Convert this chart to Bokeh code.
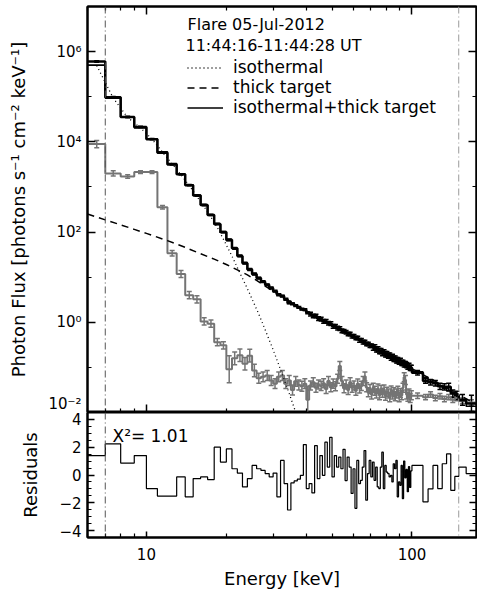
from bokeh.plotting import figure
from bokeh.models import (ColumnDataSource, FixedTicker, LogAxis, LinearAxis, Range1d, Span,
                          Whisker, TeeHead, Label, Legend, LegendItem, CustomJSTickFormatter)
from bokeh.layouts import column
from bokeh.embed import file_html
from bokeh.resources import INLINE

# ---------------- data ----------------
# energy bin edges [keV]
bin_edges = list(range(6, 101)) + [110, 115, 120, 125, 130, 135, 140, 145, 150, 160, 175]

# observed photon flux, log10 [photons s^-1 cm^-2 keV^-1]
data_log10 = [
    5.78, 4.99, 4.55, 4.33, 4.06, 3.76, 3.50, 3.28, 3.04, 2.81,   # 6-15
    2.60, 2.38, 2.18, 2.00, 1.83, 1.64, 1.47, 1.31, 1.17, 1.07,   # 16-25
    0.98, 0.90, 0.83, 0.76, 0.69, 0.61, 0.58, 0.51, 0.43, 0.41,   # 26-35
    0.37, 0.33, 0.29, 0.28, 0.21, 0.18, 0.14, 0.14, 0.08, 0.07,   # 36-45
    0.02, 0.02, -0.02, -0.03, -0.09, -0.09, -0.13, -0.14, -0.19, -0.20,  # 46-55
    -0.22, -0.26, -0.26, -0.31, -0.31, -0.35, -0.35, -0.40, -0.40, -0.44,  # 56-65
    -0.44, -0.48, -0.48, -0.52, -0.52, -0.56, -0.56, -0.60, -0.60, -0.64,  # 66-75
    -0.64, -0.68, -0.67, -0.71, -0.71, -0.74, -0.74, -0.78, -0.77, -0.81,  # 76-85
    -0.81, -0.84, -0.84, -0.87, -0.86, -0.90, -0.90, -0.93, -0.93, -0.95,  # 86-95
    -0.98, -0.97, -1.01, -1.01,                                           # 96-99
    -1.12, -1.30, -1.33, -1.35, -1.42, -1.43, -1.43, -1.58, -1.62, -1.72, -1.80,
]
# half error bar of the observed flux, in dex
data_err_dex = [0.015] * 15 + [0.02] * 20 + [0.04] * 30 + [0.06] * 29 + \
    [0.05, 0.05, 0.06, 0.06, 0.07, 0.07, 0.08, 0.08, 0.09, 0.12, 0.18]

# background photon flux, log10
background_log10 = [
    3.95, 3.30, 3.23, 3.33, 3.33, 2.55, 1.53, 1.07, 0.60, 0.51,   # 6-15
    0.02, -0.03, -0.44, -0.51, -1.04, -0.80, -0.73, -0.92, -0.74, -1.07,  # 16-25
    -1.24, -1.21, -1.18, -1.29, -1.36, -1.21, -1.18, -1.36, -1.29, -1.50,  # 26-35
    -1.31, -1.39, -1.42, -1.36, -1.72, -1.40, -1.33, -1.45, -1.38, -1.41,  # 36-45
    -1.35, -1.48, -1.30, -1.44, -1.36, -1.42, -1.25, -0.97, -1.30, -1.46,  # 46-55
    -1.38, -1.50, -1.33, -1.45, -1.40, -1.52, -1.36, -1.47, -1.41, -1.30,  # 56-65
    -1.20, -1.44, -1.55, -1.48, -1.60, -1.45, -1.52, -1.58, -1.47, -1.62,  # 66-75
    -1.50, -1.56, -1.49, -1.63, -1.54, -1.58, -1.66, -1.51, -1.60, -1.55,  # 76-85
    -1.64, -1.58, -1.52, -1.66, -1.57, -1.62, -1.45, -1.22, -1.28, -1.60,  # 86-95
    -1.65, -1.58, -1.68, -1.62,                                           # 96-99
    -1.63, -1.66, -1.60, -1.68, -1.64, -1.70, -1.66, -1.72, -1.68, -1.74, -1.78,
]
background_err_dex = [0.08, 0.06, 0.04, 0.03, 0.03, 0.04, 0.06] + [0.08] * 7 + [0.30] + \
    [0.14] * 5 + [0.11] * 14 + [0.30] + [0.10] * 59 + [0.06] * 11

# fitted model (isothermal + thick target) per bin, log10
model_log10 = [
    5.70, 4.97, 4.55, 4.31, 4.07, 3.78, 3.52, 3.28, 3.05, 2.82,
    2.60, 2.38, 2.17, 1.99, 1.81, 1.64, 1.47, 1.32, 1.18, 1.06,
    0.97, 0.89, 0.82, 0.76, 0.69, 0.63, 0.57, 0.52, 0.47, 0.42,
    0.38, 0.34, 0.30, 0.26, 0.22, 0.19, 0.16, 0.12, 0.09, 0.06,
    0.03, 0.00, -0.02, -0.05, -0.08, -0.10, -0.13, -0.15, -0.18, -0.20,
    -0.23, -0.25, -0.27, -0.30, -0.32, -0.34, -0.36, -0.39, -0.41, -0.43,
    -0.45, -0.47, -0.49, -0.51, -0.53, -0.55, -0.57, -0.59, -0.61, -0.63,
    -0.65, -0.66, -0.68, -0.70, -0.72, -0.73, -0.75, -0.77, -0.78, -0.80,
    -0.82, -0.83, -0.85, -0.86, -0.88, -0.89, -0.91, -0.92, -0.94, -0.95,
    -0.97, -0.98, -1.00, -1.01,
    -1.10, -1.22, -1.28, -1.35, -1.40, -1.46, -1.52, -1.57, -1.62, -1.74, -1.86,
]

# normalised residuals per bin
residuals = [
    1.40, 2.24, 0.86, 1.40, -0.98, -1.52, -1.52, -0.14, -1.57, -0.26,
    -0.14, -0.33, 2.00, 0.93, 1.88, 0.45, 0.14, -0.86, -0.26, 0.69,
    0.45, 0.33, 0.10, -0.14, 0.14, -1.57, 1.05, -0.62, -2.52, -0.57,
    -0.43, -0.30, -0.02, 2.19, -0.98, -0.62, -1.29, 2.12, -0.26, 1.40,
    -0.02, 2.36, 0.57, 2.71, -0.14, 1.40, 0.57, 1.29, 0.45, 1.85,
    -0.40, 1.29, 0.57, -1.33, 0.45, -2.40, 1.05, -0.62, -0.38, 0.57,
    1.76, -1.81, 0.10, 1.05, -0.14, 0.93, -0.38, 0.57, -0.86, -0.98,
    0.57, 1.64, -0.98, 0.69, 0.21, 0.10, -0.14, -0.02, -0.50, 0.81,
    0.45, 1.05, -1.57, -0.50, -0.74, 0.69, -1.70, 1.00, -0.20, 0.40,
    -1.20, 0.60, -0.90, 0.30,
    0.69, -1.93, -1.00, 0.69, -0.98, 0.81, 1.52, -1.10, -0.10, 0.57, 0.10,
]

# isothermal component (dotted)
iso_energy = [6.5, 7.5, 8.5, 9.5, 10.5, 11.5, 12.5, 13.5, 14.5, 15.5, 16.5, 17.5, 18.5, 19.5,
              20.5, 21.5, 22.5, 23.5, 24.5, 25.5, 26.5, 27.5, 28.5, 29.5, 30.5, 31.5, 32.5,
              33.5, 34.5, 35.5, 36.5, 37.5]
iso_log10 = [5.69, 4.97, 4.54, 4.31, 4.06, 3.77, 3.51, 3.27, 3.03, 2.79, 2.56, 2.33, 2.10, 1.84,
             1.59, 1.34, 1.09, 0.86, 0.63, 0.40, 0.18, -0.05, -0.28, -0.50, -0.72, -0.94, -1.16,
             -1.37, -1.58, -1.79, -2.00, -2.21]

# thick-target component (dashed)
thick_energy = [6, 7, 8, 9, 10, 12, 14, 16, 18, 20, 22, 24, 26, 28, 30, 33, 36, 40, 45, 50,
                55, 60, 70, 80, 90, 100, 110, 120, 135, 150, 165, 175]
thick_log10 = [2.40, 2.27, 2.16, 2.06, 1.97, 1.81, 1.66, 1.52, 1.40, 1.28, 1.16, 1.05, 0.93,
               0.80, 0.69, 0.54, 0.40, 0.24, 0.06, -0.08, -0.20, -0.32, -0.53, -0.72, -0.88,
               -1.03, -1.16, -1.28, -1.45, -1.60, -1.74, -1.82]

fit_range = [7, 150]          # keV, dash-dot lines
chi2_text = "X²=  1.01"
title_lines = ["Flare 05-Jul-2012", "11:44:16-11:44:28 UT"]
legend_labels = ["isothermal", "thick target", "isothermal+thick target"]

# ---------------- derived plotting arrays ----------------
lo = bin_edges[:-1]
hi = bin_edges[1:]
mid = [(a + b) / 2 for a, b in zip(lo, hi)]

def step_y(vals):
    return vals + [vals[-1]]

data_flux = [10 ** v for v in data_log10]
bg_flux = [10 ** v for v in background_log10]
model_flux = [10 ** v for v in model_log10]

FONT = "DejaVu Sans"
GRAY = "#747474"

sup_js = """
const sup = {"-":"\u207b","0":"\u2070","1":"\u00b9","2":"\u00b2","3":"\u00b3","4":"\u2074",
             "5":"\u2075","6":"\u2076","7":"\u2077","8":"\u2078","9":"\u2079"};
const e = Math.round(Math.log10(tick));
return "10" + String(e).split("").map(c => sup[c]).join("");
"""

x_major = [10, 100]
x_minor = [6, 7, 8, 9, 20, 30, 40, 50, 60, 70, 80, 90, 200]
y_major = [1e-2, 1e0, 1e2, 1e4, 1e6]
y_minor = [1e-2, 1e-1, 1e0, 1e1, 1e2, 1e3, 1e4, 1e5, 1e6, 1e7]
r_major = [-4, -2, 0, 2, 4]
r_minor = [-4.5 + 0.5 * i for i in range(19)]


def style_axis(ax, labels=True, major=8, minor=4):
    ax.major_tick_in = major
    ax.major_tick_out = 0
    ax.minor_tick_in = minor
    ax.minor_tick_out = 0
    ax.axis_line_width = 2
    ax.axis_line_color = "black"
    ax.major_tick_line_color = "black"
    ax.minor_tick_line_color = "black"
    ax.major_tick_line_width = 1.5
    ax.minor_tick_line_width = 1.2
    ax.major_label_text_font = FONT
    ax.major_label_text_font_size = "15px" if labels else "0px"
    ax.axis_label_text_font = FONT
    ax.axis_label_text_font_size = "18px"
    ax.axis_label_text_font_style = "normal"
    ax.axis_label_text_color = "black"
    ax.major_label_text_color = "black"
    if not labels:
        ax.major_label_standoff = 0
        ax.formatter = CustomJSTickFormatter(code="return '';")


x_range = Range1d(6, 175)

# ---------------- top panel ----------------
p1 = figure(width=477, height=412, x_axis_type="log", y_axis_type="log",
            x_range=x_range, y_range=Range1d(1e-2, 1e7),
            min_border_left=87, min_border_right=1, min_border_top=6, min_border_bottom=0,
            toolbar_location=None, output_backend="svg")
p1.xgrid.visible = False
p1.ygrid.visible = False
p1.outline_line_color = "black"
p1.outline_line_width = 2

p1.xaxis.ticker = FixedTicker(ticks=x_major, minor_ticks=x_minor)
style_axis(p1.xaxis[0], labels=False)
p1.yaxis.ticker = FixedTicker(ticks=y_major, minor_ticks=y_minor)
style_axis(p1.yaxis[0])
p1.yaxis.formatter = CustomJSTickFormatter(code=sup_js)
p1.yaxis.axis_label = "Photon Flux [photons s⁻¹ cm⁻² keV⁻¹]"
p1.yaxis.axis_label_standoff = 16
p1.yaxis.major_label_standoff = 6

top_ax = LogAxis(ticker=FixedTicker(ticks=x_major, minor_ticks=x_minor))
style_axis(top_ax, labels=False)
p1.add_layout(top_ax, "above")
right_ax = LogAxis(ticker=FixedTicker(ticks=y_major, minor_ticks=y_minor))
style_axis(right_ax, labels=False)
p1.add_layout(right_ax, "right")

for i, e in enumerate(fit_range):
    p1.add_layout(Span(location=e, dimension="height", line_color="#555555" if i == 0 else "#9a9a9a",
                       line_width=1, line_dash="7 3 1 3"))

# background
p1.step(bin_edges, step_y(bg_flux), mode="after", line_color=GRAY, line_width=2)
bg_src = ColumnDataSource(dict(
    base=mid,
    lower=[10 ** (v - e) for v, e in zip(background_log10, background_err_dex)],
    upper=[10 ** (v + e) for v, e in zip(background_log10, background_err_dex)]))
p1.add_layout(Whisker(source=bg_src, base="base", lower="lower", upper="upper",
                      line_color=GRAY, line_width=1.5,
                      upper_head=TeeHead(size=5, line_color=GRAY, line_width=1.5),
                      lower_head=TeeHead(size=5, line_color=GRAY, line_width=1.5)))

# observed data
p1.step(bin_edges, step_y(data_flux), mode="after", line_color="black", line_width=2.5)
d_src = ColumnDataSource(dict(
    base=mid,
    lower=[10 ** (v - e) for v, e in zip(data_log10, data_err_dex)],
    upper=[10 ** (v + e) for v, e in zip(data_log10, data_err_dex)]))
p1.add_layout(Whisker(source=d_src, base="base", lower="lower", upper="upper",
                      line_color="black", line_width=1.5,
                      upper_head=TeeHead(size=5, line_color="black", line_width=1.5),
                      lower_head=TeeHead(size=5, line_color="black", line_width=1.5)))

# model components
r_iso = p1.line(iso_energy, [10 ** v for v in iso_log10], line_color="black",
                line_width=1.3, line_dash="1 3")
r_thick = p1.line(thick_energy, [10 ** v for v in thick_log10], line_color="black",
                  line_width=1.5, line_dash="7 5")
r_total = p1.step(bin_edges, step_y(model_flux), mode="after", line_color="black", line_width=1.6)

legend = Legend(items=[LegendItem(label=legend_labels[0], renderers=[r_iso]),
                       LegendItem(label=legend_labels[1], renderers=[r_thick]),
                       LegendItem(label=legend_labels[2], renderers=[r_total])],
                location=(100, 295), glyph_width=36, glyph_height=19, label_height=19,
                label_standoff=10, spacing=0, padding=0, margin=0,
                label_text_font=FONT, label_text_font_size="17px", label_text_color="black",
                border_line_alpha=0, background_fill_alpha=0)
p1.add_layout(legend)

p1.add_layout(Label(x=100, y=388, x_units="screen", y_units="screen", text=title_lines[0],
                    text_font=FONT, text_font_size="16px", text_baseline="middle",
                    text_color="black"))
p1.add_layout(Label(x=98, y=367, x_units="screen", y_units="screen", text=title_lines[1],
                    text_font=FONT, text_font_size="16px", text_baseline="middle",
                    text_color="black"))

# ---------------- residual panel ----------------
p2 = figure(width=477, height=181, x_axis_type="log",
            x_range=x_range, y_range=Range1d(-4.5, 4.5),
            min_border_left=87, min_border_right=1, min_border_top=0, min_border_bottom=56,
            toolbar_location=None, output_backend="svg")
p2.xgrid.visible = False
p2.ygrid.visible = False
p2.outline_line_color = "black"
p2.outline_line_width = 2

p2.xaxis.ticker = FixedTicker(ticks=x_major, minor_ticks=x_minor)
style_axis(p2.xaxis[0], major=6, minor=4)
p2.xaxis.formatter = CustomJSTickFormatter(code="return tick.toFixed(0);")
p2.xaxis.axis_label = "Energy [keV]"
p2.xaxis.major_label_standoff = 10
p2.xaxis.axis_label_standoff = 5
p2.yaxis.ticker = FixedTicker(ticks=r_major, minor_ticks=r_minor)
style_axis(p2.yaxis[0], major=7, minor=4)
p2.yaxis.formatter = CustomJSTickFormatter(code="return tick < 0 ? '\u2212' + Math.abs(tick) : String(tick);")
p2.yaxis.axis_label = "Residuals"
p2.yaxis.major_label_standoff = 6
p2.yaxis.axis_label_standoff = 15

right_ax2 = LinearAxis(ticker=FixedTicker(ticks=r_major, minor_ticks=r_minor))
style_axis(right_ax2, labels=False, major=7, minor=4)
p2.add_layout(right_ax2, "right")

for i, e in enumerate(fit_range):
    p2.add_layout(Span(location=e, dimension="height", line_color="#555555" if i == 0 else "#9a9a9a",
                       line_width=1, line_dash="7 3 1 3"))

p2.step(bin_edges, step_y(residuals), mode="after", line_color="black", line_width=1.2)

p2.add_layout(Label(x=25, y=102, x_units="screen", y_units="screen", text=chi2_text,
                    text_font=FONT, text_font_size="17px", text_baseline="middle",
                    text_color="black"))

layout = column(p1, p2, spacing=0)
open("out.html", "w").write(file_html(layout, INLINE))
